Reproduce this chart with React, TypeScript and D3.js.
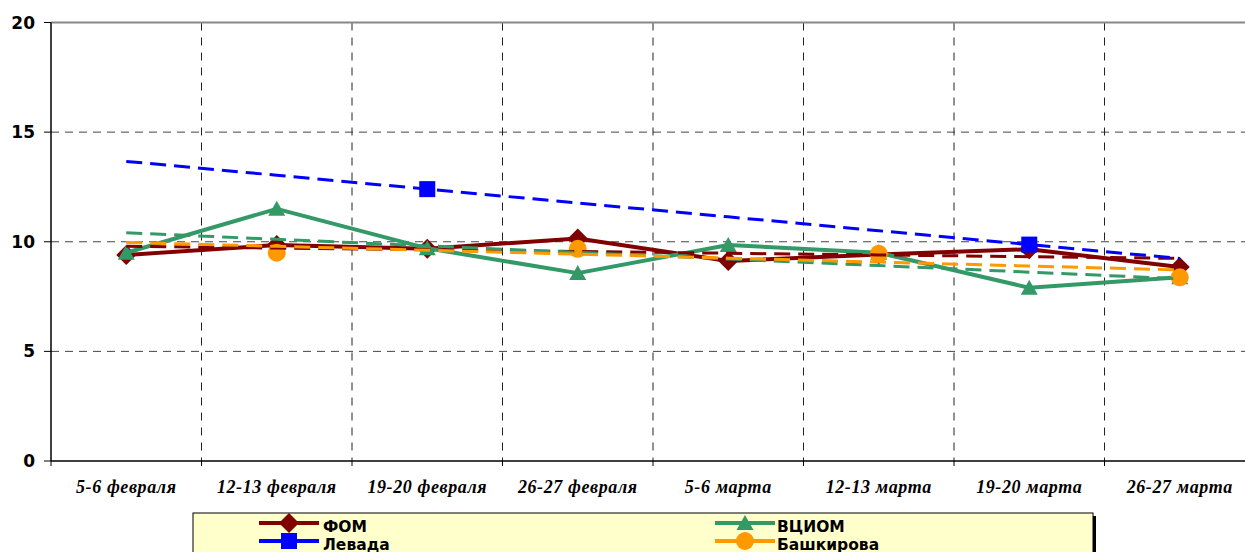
import * as d3 from "d3";

const categories = ["5-6 февраля", "12-13 февраля", "19-20 февраля", "26-27 февраля", "5-6 марта", "12-13 марта", "19-20 марта", "26-27 марта"];
const fom = [9.4, 9.85, 9.68, 10.15, 9.12, 9.42, 9.66, 8.85];
const vciom = [9.5, 11.5, 9.7, 8.57, 9.85, 9.5, 7.9, 8.38];
const levada = [null, null, 12.4, null, null, null, 9.87, null];
const bashkirova = [null, 9.5, null, 9.68, null, 9.45, null, 8.38];
const yTicks = [0, 5, 10, 15, 20];

const seriesList = [
  { name: "ФОМ", values: fom, color: "#800000", marker: "diamond" },
  { name: "ВЦИОМ", values: vciom, color: "#339966", marker: "triangle" },
  { name: "Левада", values: levada, color: "#0000FF", marker: "square" },
  { name: "Башкирова", values: bashkirova, color: "#FF9900", marker: "circle" },
];

const W = 1245, H = 552;
const margin = { left: 51, top: 22.5, right: 1255, bottom: 461 };

const x = d3.scaleBand().domain(categories).range([margin.left, margin.right]);
const y = d3.scaleLinear().domain([0, 20]).range([margin.bottom, margin.top]);
const cx = (i) => x(categories[i]) + x.bandwidth() / 2;

// simple least squares on index, like excel's linear trendline
const trend = (vals) => {
  const pts = vals.map((v, i) => [i, v]).filter(d => d[1] != null);
  const mx = d3.mean(pts, d => d[0]), my = d3.mean(pts, d => d[1]);
  const sxy = d3.sum(pts, d => (d[0] - mx) * (d[1] - my));
  const sxx = d3.sum(pts, d => (d[0] - mx) ** 2);
  const b = sxy / sxx;
  return categories.map((_, i) => my + b * (i - mx));
};

const marker = (type, px, py, color, key) => {
  if (type === "diamond")
    return <path key={key} d={`M${px - 10},${py}L${px},${py - 10}L${px + 10},${py}L${px},${py + 10}Z`} fill={color} />;
  if (type === "triangle")
    return <path key={key} d={`M${px - 8.5},${py + 7}L${px},${py - 8}L${px + 8.5},${py + 7}Z`} fill={color} />;
  if (type === "square")
    return <rect key={key} x={px - 8} y={py - 8} width={16} height={16} fill={color} />;
  return <circle key={key} cx={px} cy={py} r={9} fill={color} />;
};

const line = d3.line().defined(d => d[1] != null).x(d => cx(d[0])).y(d => y(d[1]));

export default function App() {
  const legendRows = [
    { s: seriesList[0], lx: 259, tx: 323, ly: 523 },
    { s: seriesList[1], lx: 715, tx: 777, ly: 523 },
    { s: seriesList[2], lx: 259, tx: 323, ly: 541 },
    { s: seriesList[3], lx: 715, tx: 777, ly: 541 },
  ];
  return (
    <svg width={W} height={H} style={{ position: "absolute", left: 0, top: 0, background: "#fff" }}>
      {/* grid */}
      {yTicks.filter(t => t > 0 && t < 20).map(t => (
        <line key={"h" + t} x1={margin.left} x2={margin.right} y1={y(t)} y2={y(t)} stroke="#444" strokeWidth={1} strokeDasharray="8,6" />
      ))}
      {categories.slice(1).map(c => (
        <line key={"v" + c} x1={x(c)} x2={x(c)} y1={margin.top} y2={margin.bottom} stroke="#222" strokeWidth={1} strokeDasharray="8,7" />
      ))}
      <line x1={margin.left} x2={margin.right} y1={y(20)} y2={y(20)} stroke="#888" strokeWidth={2} />

      {/* axes */}
      <line x1={margin.left} x2={margin.left} y1={margin.top} y2={margin.bottom} stroke="#000" strokeWidth={1.5} />
      <line x1={margin.left} x2={margin.right} y1={margin.bottom} y2={margin.bottom} stroke="#000" strokeWidth={1.5} />
      {yTicks.map(t => (
        <g key={"yt" + t}>
          <line x1={margin.left - 7} x2={margin.left} y1={y(t)} y2={y(t)} stroke="#000" strokeWidth={1} />
          <text x={35} y={y(t) + 6} textAnchor="end" fontFamily="DejaVu Sans" fontWeight="bold" fontSize={17}>{t}</text>
        </g>
      ))}
      {categories.map(c => (
        <g key={"xt" + c}>
          <line x1={x(c)} x2={x(c)} y1={margin.bottom} y2={margin.bottom + 5} stroke="#000" strokeWidth={1} />
          <text x={x(c) + x.bandwidth() / 2} y={493} textAnchor="middle" fontFamily="Liberation Serif" fontStyle="italic" fontWeight="bold" fontSize={18} letterSpacing={0.6}>{c}</text>
        </g>
      ))}

      {/* series */}
      {seriesList.map(s => (
        <g key={s.name}>
          <path d={line(s.values.map((v, i) => [i, v]))} fill="none" stroke={s.color} strokeWidth={4} strokeLinejoin="round" />
          {s.values.map((v, i) => v == null ? null : marker(s.marker, cx(i), y(v), s.color, s.name + i))}
        </g>
      ))}

      {/* trend lines */}
      {seriesList.map(s => (
        <path key={"tr" + s.name} d={line(trend(s.values).map((v, i) => [i, v]))} fill="none" stroke={s.color} strokeWidth={3} strokeDasharray="16,8" />
      ))}

      {/* legend */}
      <rect x={196} y={516} width={900} height={60} fill="#000" />
      <rect x={193} y={513} width={900} height={60} fill="#FFFFCC" stroke="#000" strokeWidth={1} />
      {legendRows.map(r => (
        <g key={"lg" + r.s.name}>
          <line x1={r.lx} x2={r.lx + 60} y1={r.ly} y2={r.ly} stroke={r.s.color} strokeWidth={4} />
          {marker(r.s.marker, r.lx + 30, r.ly, r.s.color, "lm" + r.s.name)}
          <text x={r.tx} y={r.ly + 9} fontFamily="DejaVu Sans" fontWeight="bold" fontSize={15.5}>{r.s.name}</text>
        </g>
      ))}
    </svg>
  );
}
